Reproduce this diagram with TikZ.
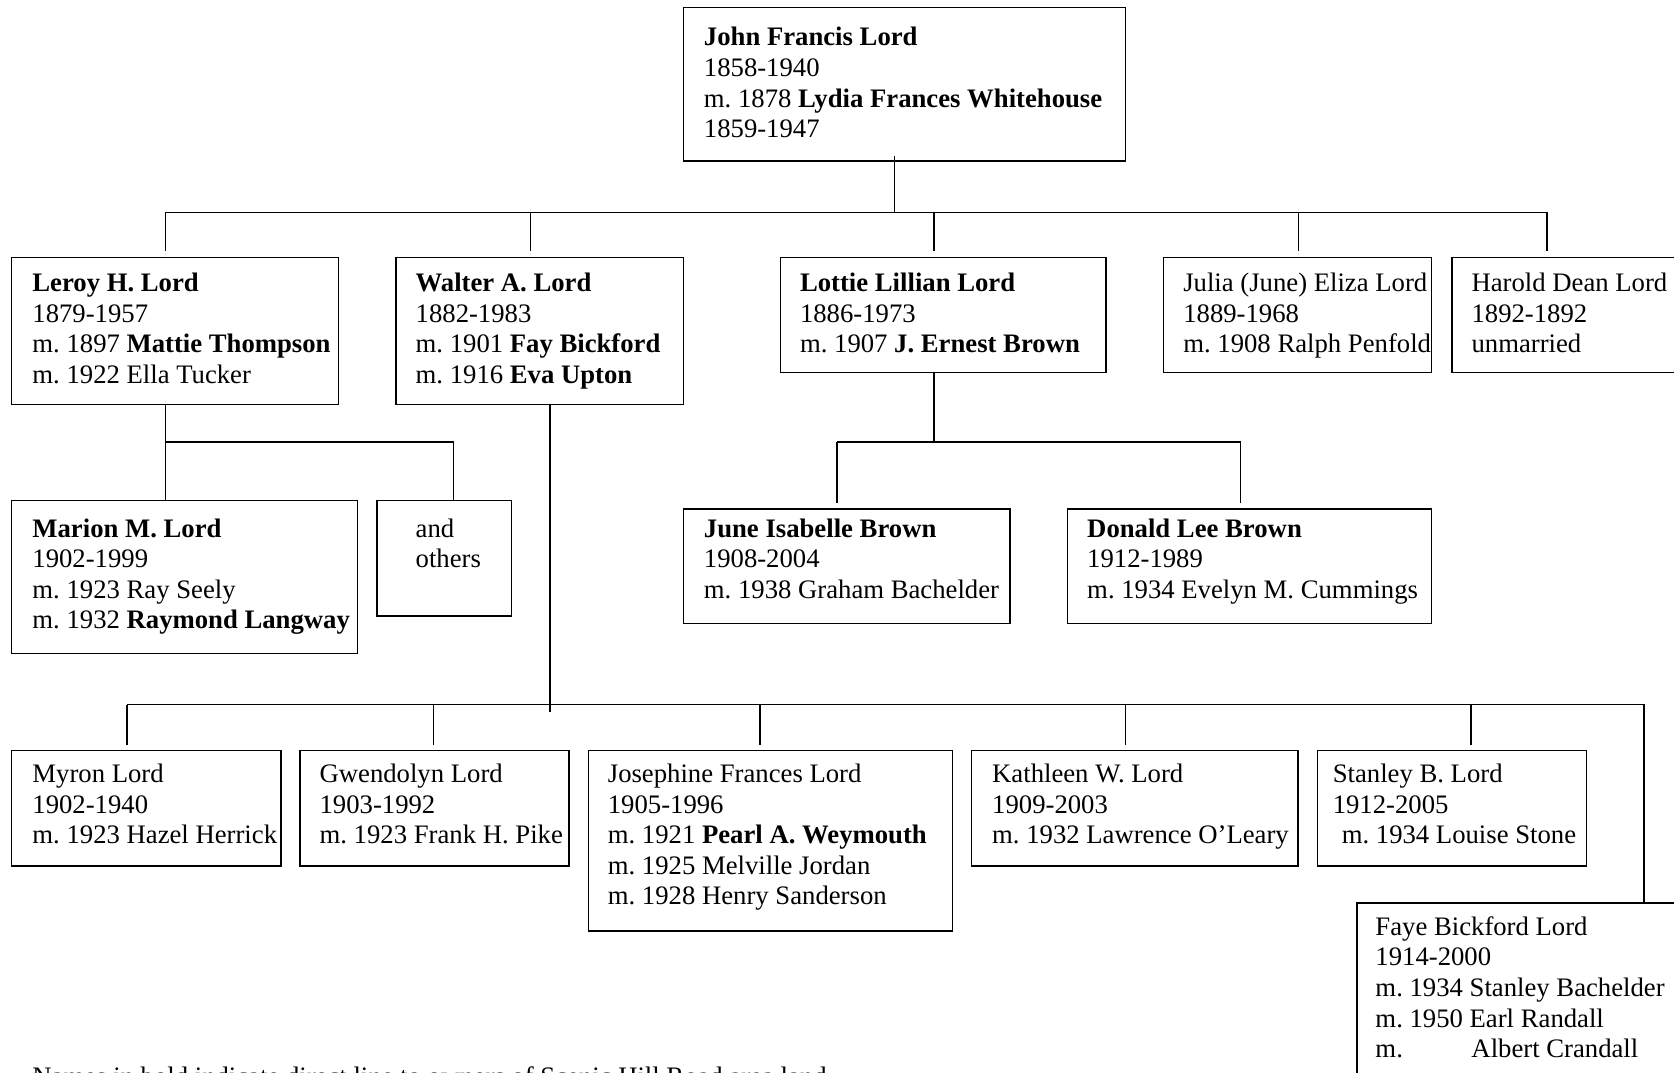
\documentclass[tikz,border=0pt]{standalone}
\usepackage{fontspec}
\setmainfont{Liberation Serif}
\usetikzlibrary{fit}
\frenchspacing
\newcommand\ftlines[1]{\begin{tabular}[t]{@{}l@{}}#1\end{tabular}}
\newcommand\persfont{\fontsize{13.35}{15.3}\selectfont}
\tikzset{
  fbox/.style={draw, line width=0.75pt, inner sep=0pt},
  ftxt/.style={anchor=base west, inner sep=0pt, font=\persfont},
  conn/.style={line width=0.7pt},
  gap/.style={shorten >=2.6pt}
}
\begin{document}
\begin{tikzpicture}[x=0.5338pt, y=-0.5338pt]
\useasboundingbox (0,0) rectangle (1568,1005);
\fill[white] (0,0) rectangle (1568,1005);
\clip (0,0) rectangle (1568,1005);

% boxes
\node[fbox, fit={(640,7) (1054,151)}] (john) {};
\node[fbox, fit={(11,241) (317,379)}] (leroy) {};
\node[fbox, fit={(371,241) (640,379)}] (walter) {};
\node[fbox, fit={(731,241) (1036,349)}] (lottie) {};
\node[fbox, fit={(1090,241) (1341,349)}] (julia) {};
\node[fbox, fit={(1360,241) (1590,349)}] (harold) {};
\node[fbox, fit={(11,469) (335,612)}] (marion) {};
\node[fbox, fit={(353,469) (479,577)}] (others) {};
\node[fbox, fit={(640,477) (946,584)}] (june) {};
\node[fbox, fit={(1000,477) (1341,584)}] (donald) {};
\node[fbox, fit={(11,703) (263,811)}] (myron) {};
\node[fbox, fit={(281,703) (533,811)}] (gwen) {};
\node[fbox, fit={(551,703) (892,872)}] (jos) {};
\node[fbox, fit={(910,703) (1216,811)}] (kath) {};
\node[fbox, fit={(1234,703) (1486,811)}] (stan) {};
\node[fbox, fit={(1271,846) (1590,1040)}] (faye) {};

% texts
\node[ftxt] (john-t) at (659,43) {\ftlines{\textbf{John Francis Lord}\\1858-1940\\m. 1878 \textbf{Lydia Frances Whitehouse}\\1859-1947}};
\node[ftxt] (leroy-t) at (30,273) {\ftlines{\textbf{Leroy H. Lord}\\1879-1957\\m. 1897 \textbf{Mattie Thompson}\\m. 1922 Ella Tucker}};
\node[ftxt] (walter-t) at (389,273) {\ftlines{\textbf{Walter A. Lord}\\1882-1983\\m. 1901 \textbf{Fay Bickford}\\m. 1916 \textbf{Eva Upton}}};
\node[ftxt] (lottie-t) at (749,273) {\ftlines{\textbf{Lottie Lillian Lord}\\1886-1973\\m. 1907 \textbf{J. Ernest Brown}}};
\node[ftxt] (julia-t) at (1108,273) {\ftlines{Julia (June) Eliza Lord\\1889-1968\\m. 1908 Ralph Penfold}};
\node[ftxt] (harold-t) at (1378,273) {\ftlines{Harold Dean Lord\\1892-1892\\unmarried}};
\node[ftxt] (marion-t) at (30,503) {\ftlines{\textbf{Marion M. Lord}\\1902-1999\\m. 1923 Ray Seely\\m. 1932 \textbf{Raymond Langway}}};
\node[ftxt] (others-t) at (389,503) {\ftlines{and\\others}};
\node[ftxt] (june-t) at (659,503) {\ftlines{\textbf{June Isabelle Brown}\\1908-2004\\m. 1938 Graham Bachelder}};
\node[ftxt] (donald-t) at (1018,503) {\ftlines{\textbf{Donald Lee Brown}\\1912-1989\\m. 1934 Evelyn M. Cummings}};
\node[ftxt] (myron-t) at (30,733) {\ftlines{Myron Lord\\1902-1940\\m. 1923 Hazel Herrick}};
\node[ftxt] (gwen-t) at (299,733) {\ftlines{Gwendolyn Lord\\1903-1992\\m. 1923 Frank H. Pike}};
\node[ftxt] (jos-t) at (569,733) {\ftlines{Josephine Frances Lord\\1905-1996\\m. 1921 \textbf{Pearl A. Weymouth}\\m. 1925 Melville Jordan\\m. 1928 Henry Sanderson}};
\node[ftxt] (kath-t) at (929,733) {\ftlines{Kathleen W. Lord\\1909-2003\\m. 1932 Lawrence O’Leary}};
\node[ftxt] (stan-t) at (1248,733) {\ftlines{Stanley B. Lord\\1912-2005\\\hspace*{4.5pt}m. 1934 Louise Stone}};
\node[ftxt] (faye-t) at (1288,876) {\ftlines{Faye Bickford Lord\\1914-2000\\m. 1934 Stanley Bachelder\\m. 1950 Earl Randall\\\makebox[48pt][l]{m.}Albert Crandall}};
\node[ftxt] (foot) at (30,1017) {Names in bold indicate direct line to owners of Scenic Hill Road area land};

% junction coordinates
\coordinate (jc) at (838,199);
\coordinate (b1l) at (155,199);
\coordinate (b1r) at (1449,199);
\coordinate (dwal) at (497,199);
\coordinate (dlot) at (875,199);
\coordinate (djul) at (1216,199);
\coordinate (rc) at (155,414);
\coordinate (ro) at (425,414);
\coordinate (lc) at (875,414);
\coordinate (ljl) at (784,414);
\coordinate (ljr) at (1162,414);
\coordinate (wc) at (515,660);
\coordinate (wl) at (119,660);
\coordinate (wr) at (1540,660);
\coordinate (dgw) at (406,660);
\coordinate (djo) at (712,660);
\coordinate (dka) at (1054,660);
\coordinate (dst) at (1378,660);

% generation 1 -> 2
\draw[conn] ([yshift=3pt]john.south -| jc) -- (jc);
\draw[conn] (b1l) -- (b1r);
\draw[conn,gap] (b1l) -- (b1l |- leroy.north);
\draw[conn,gap] (dwal) -- (dwal |- walter.north);
\draw[conn,gap] (dlot) -- (dlot |- lottie.north);
\draw[conn,gap] (djul) -- (djul |- julia.north);
\draw[conn,gap] (b1r) -- (b1r |- harold.north);

% Leroy's children
\draw[conn] (leroy.south -| rc) -- (rc) -- (marion.north -| rc);
\draw[conn] (rc) -- (ro) -- (others.north -| ro);

% Lottie's children
\draw[conn] (lottie.south -| lc) -- (lc);
\draw[conn] (ljl) -- (ljr);
\draw[conn,gap] (ljl) -- (ljl |- june.north);
\draw[conn,gap] (ljr) -- (ljr |- donald.north);

% Walter's children
\draw[conn] (walter.south -| wc) -- ([yshift=-3.7pt]wc);
\draw[conn] (wl) -- (wr) -- (wr |- faye.north);
\draw[conn,gap] (wl) -- (wl |- myron.north);
\draw[conn,gap] (dgw) -- (dgw |- gwen.north);
\draw[conn,gap] (djo) -- (djo |- jos.north);
\draw[conn,gap] (dka) -- (dka |- kath.north);
\draw[conn,gap] (dst) -- (dst |- stan.north);
\end{tikzpicture}
\end{document}
